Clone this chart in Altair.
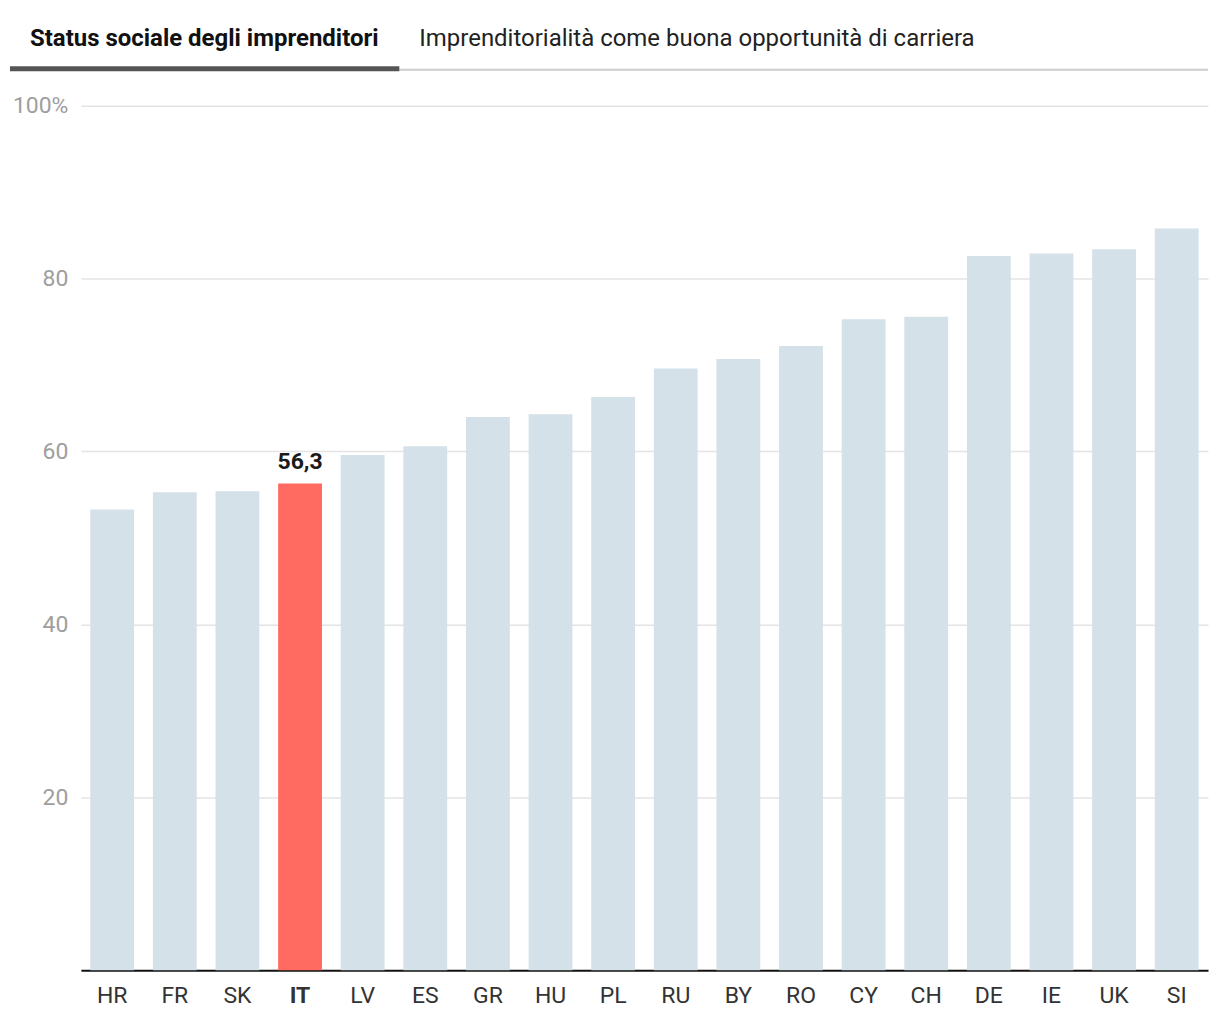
import altair as alt
import pandas as pd

countries = ["HR", "FR", "SK", "IT", "LV", "ES", "GR", "HU", "PL", "RU",
             "BY", "RO", "CY", "CH", "DE", "IE", "UK", "SI"]
values = [53.3, 55.3, 55.4, 56.3, 59.6, 60.6, 64.0, 64.3, 66.3, 69.6,
          70.7, 72.2, 75.3, 75.6, 82.6, 82.9, 83.4, 85.8]
highlight = "IT"
highlight_label = "56,3"
y_ticks = [20, 40, 60, 80, 100]
tab_active = "Status sociale degli imprenditori"
tab_inactive = "Imprenditorialità come buona opportunità di carriera"

df = pd.DataFrame({"country": countries, "value": values})
df["hl"] = df["country"] == highlight
df["label"] = [highlight_label if c == highlight else "" for c in countries]

FONT = "Roboto"

x_enc = alt.X(
    "country:N", sort=countries, title=None,
    scale=alt.Scale(paddingInner=0.3, paddingOuter=0.15),
    axis=alt.Axis(
        labelAngle=0, labelFontSize=23, labelColor="#333333", labelFont=FONT,
        labelPadding=14, ticks=False, domainColor="#111111", domainWidth=2,
        labelFontWeight=alt.ExprRef(f"datum.value == '{highlight}' ? 'bold' : 'normal'"),
    ),
)
y_enc = alt.Y(
    "value:Q", title=None,
    scale=alt.Scale(domain=[0, 100], nice=False),
    axis=alt.Axis(
        values=y_ticks, labelFontSize=23, labelColor="#9e9e9e", labelFont=FONT,
        labelPadding=13, ticks=False, domain=False, gridColor="#e4e4e4",
        gridWidth=1.5,
        labelExpr="datum.value == 100 ? '100%' : datum.label",
    ),
)

bars = alt.Chart(df).mark_bar().encode(
    x=x_enc, y=y_enc,
    color=alt.condition("datum.hl", alt.value("#ff6b61"), alt.value("#d4e1e8")),
)

labels = alt.Chart(df).transform_filter("datum.hl").mark_text(
    baseline="bottom", dy=-10, fontSize=23, fontWeight="bold", font=FONT, color="#1a1a1a"
).encode(x=alt.X("country:N", sort=countries), y="value:Q", text="label:N")

tab_df = pd.DataFrame({"t": [tab_active]})
tab1 = alt.Chart(tab_df).mark_text(
    align="left", baseline="middle", fontSize=24, fontWeight="bold", font=FONT, color="#111111"
).encode(x=alt.value(-51), y=alt.value(-67), text="t:N")

tab2_df = pd.DataFrame({"t": [tab_inactive]})
tab2 = alt.Chart(tab2_df).mark_text(
    align="left", baseline="middle", fontSize=24, font=FONT, color="#222222"
).encode(x=alt.value(339), y=alt.value(-67), text="t:N")

line_light = alt.Chart(tab_df).mark_rule(color="#cccccc", strokeWidth=2).encode(
    x=alt.value(319), x2=alt.value(1129), y=alt.value(-36)
)
line_dark = alt.Chart(tab_df).mark_rule(color="#555555", strokeWidth=5).encode(
    x=alt.value(-71), x2=alt.value(319), y=alt.value(-37)
)

chart = alt.layer(bars, labels, line_light, line_dark, tab1, tab2).properties(
    width=1129, height=866,
    autosize=alt.AutoSizeParams(type="none"),
    padding={"left": 73, "top": 97, "right": 4, "bottom": 45},
).configure(background="white", view=alt.ViewConfig(stroke=None))

chart.save("out.html", embed_options={"renderer": "svg", "actions": False})
